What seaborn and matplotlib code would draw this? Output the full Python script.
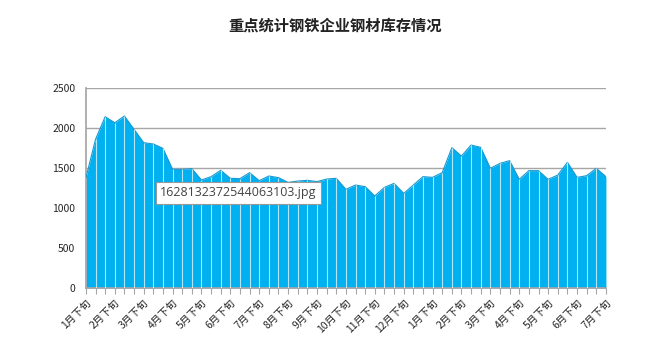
import matplotlib
matplotlib.use("Agg")
import matplotlib.pyplot as plt
import seaborn as sns
import numpy as np
import pandas as pd

sns.set_theme(style="white")
plt.rcParams['font.family'] = ['Noto Sans CJK SC', 'DejaVu Sans']

# 每旬库存(万吨), 从1月下旬到次年7月下旬
inventory = [1375, 1858, 2141, 2066, 2150, 1983, 1817, 1800, 1746, 1483,
             1483, 1492, 1350, 1392, 1471, 1371, 1367, 1442, 1342, 1400,
             1380, 1320, 1337, 1346, 1330, 1362, 1371, 1233, 1287, 1267,
             1150, 1258, 1308, 1183, 1287, 1392, 1383, 1442, 1754, 1650,
             1787, 1758, 1496, 1558, 1592, 1358, 1467, 1467, 1358, 1412,
             1571, 1383, 1404, 1496, 1392]
month_labels = ["1月下旬", "2月下旬", "3月下旬", "4月下旬", "5月下旬", "6月下旬",
                "7月下旬", "8月下旬", "9月下旬", "10月下旬", "11月下旬", "12月下旬",
                "1月下旬", "2月下旬", "3月下旬", "4月下旬", "5月下旬", "6月下旬",
                "7月下旬"]

df = pd.DataFrame({"idx": np.arange(len(inventory)), "value": inventory})

fig = plt.figure(figsize=(6.71, 3.54), dpi=100)
ax = fig.add_axes([0.128, 0.1864, 0.775, 0.565])

ax.fill_between(df["idx"], df["value"], color="#00B0F0", zorder=2, linewidth=0)
sns.lineplot(data=df, x="idx", y="value", ax=ax, color="#1898d0", linewidth=0.8, zorder=3)
# white drop lines at each point
ax.vlines(df["idx"][1:-1], 0, df["value"][1:-1], color="white", alpha=0.7, linewidth=0.8, zorder=3)

ax.set_xlim(0, len(inventory) - 1)
ax.set_ylim(0, 2500)
ax.set_yticks(range(0, 2501, 500))
ax.yaxis.grid(True, color="#a6a6a6", linewidth=1, zorder=1)
ax.set_axisbelow(True)

ax.set_xticks(df["idx"], minor=True)
ax.set_xticks(df["idx"][::3])
ax.set_xticklabels(month_labels, rotation=45, ha="right", rotation_mode="anchor", fontsize=7.5)
ax.tick_params(axis="x", which="both", bottom=True, length=4, color="#a6a6a6", width=0.8, pad=3)
ax.tick_params(axis="y", labelsize=7.5, left=False, length=0, pad=7.5)

for side in ["top", "right"]:
    ax.spines[side].set_visible(False)
ax.spines["left"].set_color("#a6a6a6")
ax.spines["bottom"].set_color("#a6a6a6")
ax.set_xlabel("")
ax.set_ylabel("")

fig.text(0.5, 0.928, "重点统计钢铁企业钢材库存情况", ha="center", va="center",
         fontsize=11, fontweight="bold", color="#222222")

# tooltip overlay seen in the screenshot
fig.text(0.2385, 0.455, "1628132372544063103.jpg", ha="left", va="center", fontsize=9,
         color="#444444", family=["Open Sans", "DejaVu Sans"],
         bbox=dict(boxstyle="square,pad=0.35", facecolor="white", edgecolor="#999999", linewidth=0.8))

fig.savefig("out.png", dpi=100)
